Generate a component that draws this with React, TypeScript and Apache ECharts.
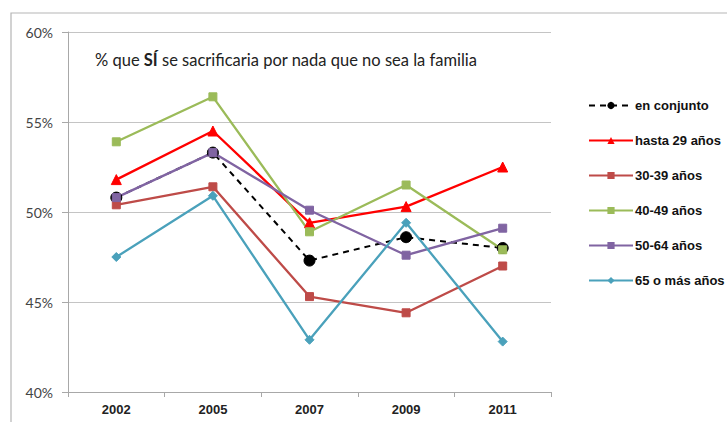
import React, { useEffect, useRef } from "react";
import * as echarts from "echarts";

const years = ["2002", "2005", "2007", "2009", "2011"];
const enConjunto = [50.8, 53.3, 47.3, 48.6, 48.0];
const hasta29 = [51.8, 54.5, 49.4, 50.3, 52.5];
const a30_39 = [50.4, 51.4, 45.3, 44.4, 47.0];
const a40_49 = [53.9, 56.4, 48.9, 51.5, 47.9];
const a50_64 = [50.8, 53.3, 50.1, 47.6, 49.1];
const a65 = [47.5, 50.9, 42.9, 49.4, 42.8];
const yTicks = [40, 45, 50, 55, 60];

const narrow = "'Liberation Sans Narrow', 'Arial Narrow', 'Liberation Sans', Arial, sans-serif";
const calib = "Lato, 'Liberation Sans', Arial, sans-serif";

export default function App() {
  const ref = useRef<HTMLDivElement>(null);
  useEffect(() => {
    const chart = echarts.init(ref.current!, null, { renderer: "svg" });
    const mk = (name: string, data: number[], color: string, symbol: string, size: number, dashed = false) => ({
      name,
      type: "line",
      data,
      symbol,
      symbolSize: size,
      lineStyle: { color, width: dashed ? 2 : 2.3, type: dashed ? [6, 5] : "solid" },
      itemStyle: { color, borderColor: dashed ? "#000" : color },
      emphasis: { disabled: true },
    });
    chart.setOption({
      animation: false,
      backgroundColor: "#fff",
      grid: { left: 68, top: 32, width: 483, height: 360 },
      graphic: [
        {
          type: "rect",
          shape: { x: 11, y: 13, width: 740, height: 430 },
          style: { fill: "none", stroke: "#b5b5b5", lineWidth: 1.2 },
          silent: true,
        },
        {
          type: "text",
          left: 95,
          top: 51,
          style: {
            text: "{a|% que }{b|SÍ}{a| se sacrificaria por nada que no sea la familia}",
            rich: {
              a: { fontSize: 16.5, fontFamily: calib, fill: "#222" },
              b: { fontSize: 16.5, fontWeight: "bold", fontFamily: calib, fill: "#222" },
            },
          },
        },
      ],
      legend: {
        orient: "vertical",
        left: 583,
        top: 94,
        itemWidth: 44,
        itemHeight: 9,
        itemGap: 22,
        textStyle: { fontSize: 13, fontWeight: "bold", fontFamily: narrow, color: "#111", padding: [0, 0, 0, -3] },
        data: ["en conjunto", "hasta 29 años", "30-39 años", "40-49 años", "50-64 años", "65 o más años"],
      },
      xAxis: {
        type: "category",
        data: years,
        boundaryGap: true,
        axisLine: { lineStyle: { color: "#a8a8a8", width: 1 } },
        axisTick: { show: true, length: 5, lineStyle: { color: "#a8a8a8" } },
        axisLabel: { fontSize: 13, fontWeight: "bold", fontFamily: narrow, color: "#222", margin: 11 },
      },
      yAxis: {
        type: "value",
        min: 40,
        max: 60,
        interval: 5,
        axisLine: { show: true, lineStyle: { color: "#a8a8a8", width: 1 } },
        axisTick: { show: true, length: 6, lineStyle: { color: "#a8a8a8" } },
        splitLine: { lineStyle: { color: "#c4c4c4", width: 1 } },
        axisLabel: {
          fontSize: 14,
          fontFamily: calib,
          color: "#444",
          margin: 15,
          formatter: (v: number) => (yTicks.includes(v) ? v + "%" : ""),
        },
      },
      series: [
        mk("en conjunto", enConjunto, "#000000", "circle", 11, true),
        mk("hasta 29 años", hasta29, "#ff0000", "triangle", 10),
        mk("30-39 años", a30_39, "#be4b48", "rect", 8),
        mk("40-49 años", a40_49, "#9bbb59", "rect", 8),
        mk("50-64 años", a50_64, "#8064a2", "rect", 8),
        mk("65 o más años", a65, "#4aa1bb", "diamond", 9),
      ],
    });
    return () => chart.dispose();
  }, []);
  return <div ref={ref} style={{ width: 727, height: 422, position: "absolute", left: 0, top: 0 }} />;
}
